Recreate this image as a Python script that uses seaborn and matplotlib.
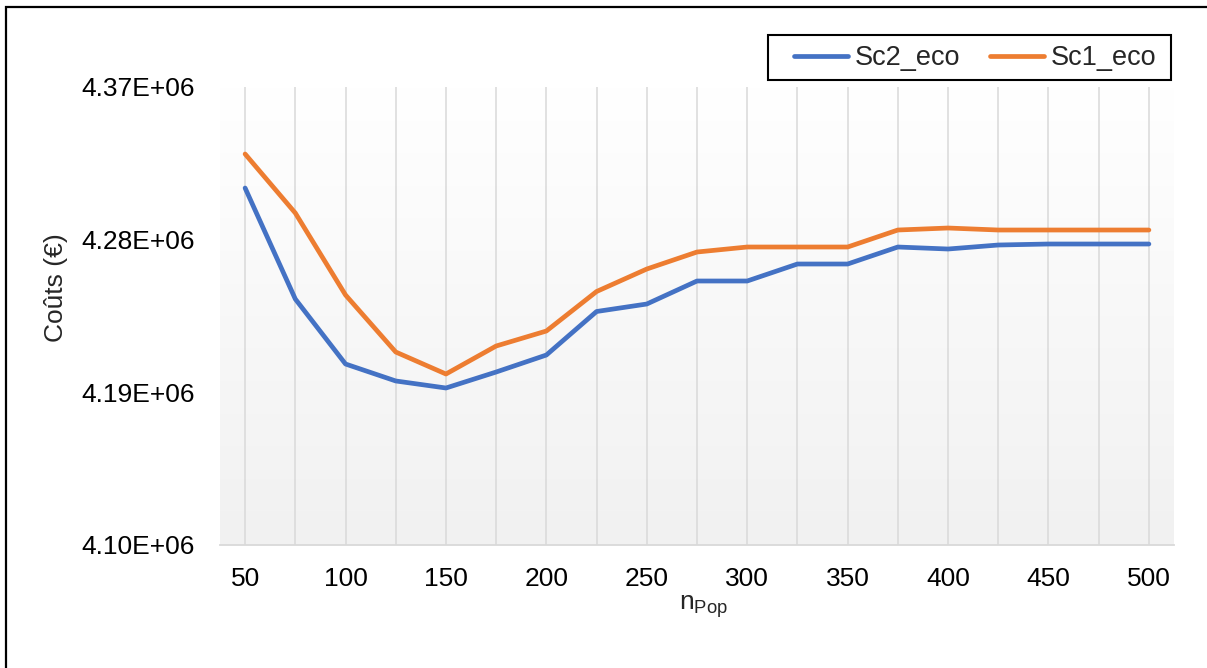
import numpy as np
import pandas as pd
import matplotlib
matplotlib.use("Agg")
import matplotlib.pyplot as plt
from matplotlib.patches import Rectangle
from matplotlib.lines import Line2D
from matplotlib.ticker import FixedLocator
import seaborn as sns

###############
# Data
###############
n_pop = [50, 75, 100, 125, 150, 175, 200, 225, 250, 275,
         300, 325, 350, 375, 400, 425, 450, 475, 500]
sc2_eco = [4310450, 4245000, 4206700, 4196700, 4192550, 4201980, 4212000,
           4237650, 4242070, 4255630, 4255630, 4265650, 4265650, 4275670,
           4274490, 4276850, 4277440, 4277440, 4277440]
sc1_eco = [4330500, 4295700, 4247380, 4213770, 4200800, 4217310, 4226150,
           4249440, 4262700, 4272720, 4275670, 4275670, 4275670, 4285690,
           4286870, 4285690, 4285690, 4285690, 4285690]
y_ticks = [4.10e6, 4.19e6, 4.28e6, 4.37e6]
series_names = ['Sc2_eco', 'Sc1_eco']
series_colors = ['#4472C4', '#ED7D31']

df = pd.DataFrame({
    'n_pop': n_pop * 2,
    'cout': sc2_eco + sc1_eco,
    'serie': [series_names[0]] * len(n_pop) + [series_names[1]] * len(n_pop),
})

###############
# Style
###############
sns.set_theme(style="white")
plt.rcParams['font.family'] = ['Liberation Sans', 'DejaVu Sans']
plt.rcParams['mathtext.fontset'] = 'custom'
plt.rcParams['mathtext.rm'] = 'Liberation Sans'

W, H = 1207, 668
fig = plt.figure(figsize=(W / 100, H / 100), dpi=100)
ax = fig.add_axes([220 / W, 1 - 545 / H, (1174 - 220) / W, (545 - 87) / H])

# gradient background of the plot area
grad = np.linspace(0, 1, 256).reshape(-1, 1)
ax.imshow(grad, extent=[0, 1, 0, 1], transform=ax.transAxes, aspect='auto',
          cmap=matplotlib.colors.LinearSegmentedColormap.from_list(
              'bg', ['#f1f1f1', '#ffffff']),
          origin='lower', zorder=0)

sns.lineplot(data=df, x='n_pop', y='cout', hue='serie',
             palette=dict(zip(series_names, series_colors)),
             linewidth=3.4, ax=ax, legend=False, zorder=3,
             solid_capstyle='round', solid_joinstyle='round')

ax.set_xlim(37.5, 512.5)
ax.set_ylim(y_ticks[0], y_ticks[-1])
ax.xaxis.set_major_locator(FixedLocator(n_pop[::2]))
ax.set_xticks(n_pop, minor=True)
ax.set_yticks(y_ticks)
ax.set_yticklabels(['%.2E' % v for v in y_ticks])
ax.tick_params(axis='both', which='both', length=0, labelsize=19,
               colors='black')
ax.tick_params(axis='y', pad=18)
ax.tick_params(axis='x', pad=16)

ax.grid(False)
for x in n_pop:
    ax.axvline(x, color='#d9d9d9', linewidth=1.1, zorder=1)
for side in ['top', 'right', 'left']:
    ax.spines[side].set_visible(False)
ax.spines['bottom'].set_color('#d9d9d9')
ax.spines['bottom'].set_linewidth(1.3)

ax.set_xlabel('')
ax.set_ylabel('')
fig.text(56 / W, 1 - 288 / H, 'Coûts (€)', rotation=90, ha='center',
         va='center', fontsize=19)
fig.text(704 / W, 1 - 607 / H, r'n$_{\mathrm{Pop}}$', ha='center',
         va='center', fontsize=19)

# legend: entries centred in a hand-placed box
fig.add_artist(Rectangle((768 / W, 1 - 80 / H), (1171 - 768) / W, 45 / H,
                         transform=fig.transFigure, fill=False,
                         edgecolor='black', linewidth=1.5))
handles = [Line2D([0], [0], color=c, linewidth=3.4) for c in series_colors]
fig.legend(handles, series_names, loc='center',
           bbox_to_anchor=(975 / W, 1 - 58 / H), ncol=2,
           fontsize=19.5, frameon=False,
           handlelength=2.0, handletextpad=0.25, columnspacing=1.1,
           borderpad=0, borderaxespad=0)

# outer border (only left and top edges fall inside the image)
fig.add_artist(Rectangle((6 / W, -0.1), 2, 1.1 - 7 / H,
                         transform=fig.transFigure, fill=False,
                         edgecolor='black', linewidth=1.6))

plt.savefig('out.png', dpi=100)
